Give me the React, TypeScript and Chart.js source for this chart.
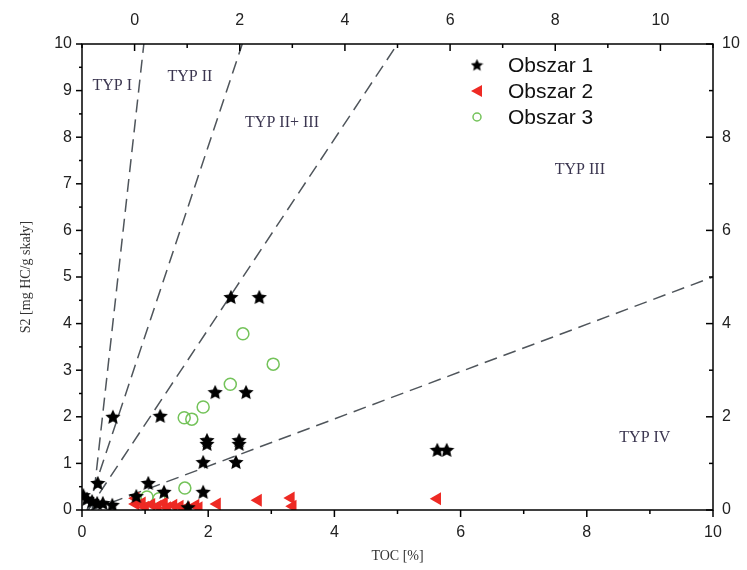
import React, { useEffect, useRef } from 'react';
import { Chart, registerables } from 'chart.js';

Chart.register(...registerables);

// ---- data ----
const obszar1X = [0.02, 0.08, 0.16, 0.24, 0.33, 0.48, 0.25, 1.05, 0.86, 1.3, 1.92, 1.68, 0.49, 1.24, 2.36, 2.81, 2.11, 2.6, 1.98, 1.98, 2.49, 2.49, 1.92, 2.44, 5.63, 5.78];
const obszar1Y = [0.32, 0.24, 0.19, 0.15, 0.15, 0.11, 0.58, 0.58, 0.3, 0.39, 0.39, 0.06, 2.0, 2.02, 4.57, 4.57, 2.53, 2.53, 1.5, 1.42, 1.5, 1.42, 1.03, 1.03, 1.29, 1.29];

const obszar2X = [0.85, 0.85, 0.95, 1.0, 1.1, 1.2, 1.3, 1.35, 1.45, 1.55, 1.65, 1.8, 1.85, 2.14, 2.79, 3.31, 3.34, 5.63];
const obszar2Y = [0.25, 0.13, 0.15, 0.06, 0.12, 0.08, 0.15, 0.05, 0.1, 0.08, 0.05, 0.1, 0.05, 0.13, 0.21, 0.26, 0.08, 0.24];

const obszar3X = [2.55, 3.03, 2.35, 1.92, 1.62, 1.74, 1.63, 1.03, 1.22];
const obszar3Y = [3.78, 3.13, 2.7, 2.21, 1.98, 1.95, 0.47, 0.28, 0.24];

const seriesNames = ['Obszar 1', 'Obszar 2', 'Obszar 3'];

// boundary lines (start/end TOC, start/end S2)
const boundaryX = [[0.16, 0.98], [0.08, 2.54], [0.1, 5.0], [0.15, 10]];
const boundaryY = [[0, 10], [0, 10], [0, 10], [0, 5]];

// type labels
const typeLabels = ['TYP I', 'TYP II', 'TYP II+ III', 'TYP III', 'TYP IV'];
const typeLabelX = [0.48, 1.71, 3.17, 7.89, 8.92];
const typeLabelY = [9.1, 9.29, 8.3, 7.3, 1.55];

const bottomTicks = [0, 2, 4, 6, 8, 10];
const topTicks = [0, 2, 4, 6, 8, 10];
const rightTicks = [0, 2, 4, 6, 8, 10];

const toPoints = (xs: number[], ys: number[]) => xs.map((x, i) => ({ x, y: ys[i] }));

function makeStar(size: number, color: string) {
  const c = document.createElement('canvas');
  c.width = size;
  c.height = size;
  const ctx = c.getContext('2d')!;
  const cx = size / 2, cy = size / 2 + size * 0.04, R = size / 2, r = R * 0.47;
  ctx.beginPath();
  for (let i = 0; i < 10; i++) {
    const a = -Math.PI / 2 + (i * Math.PI) / 5;
    const rad = i % 2 === 0 ? R : r;
    ctx.lineTo(cx + rad * Math.cos(a), cy + rad * Math.sin(a));
  }
  ctx.closePath();
  ctx.fillStyle = color;
  ctx.fill();
  return c;
}

const RED = '#ee2a24';
const GREEN = '#74c35a';
const LINE = '#4f555b';

export default function App() {
  const ref = useRef<HTMLCanvasElement | null>(null);

  useEffect(() => {
    if (!ref.current) return;
    const star = makeStar(16, '#000');
    const legendStar = makeStar(13, '#000');

    const tickPlugin = {
      id: 'frameTicks',
      afterDraw(chart: any) {
        const { ctx, chartArea: a, scales } = chart;
        ctx.save();
        ctx.strokeStyle = '#000';
        ctx.lineWidth = 1.5;
        ctx.strokeRect(a.left, a.top, a.right - a.left, a.bottom - a.top);
        // bottom (outward)
        for (let v = 0; v <= 10; v++) {
          const px = scales.x.getPixelForValue(v);
          const len = v % 2 === 0 ? 7 : 4;
          ctx.beginPath(); ctx.moveTo(px, a.bottom); ctx.lineTo(px, a.bottom + len); ctx.stroke();
        }
        // top (inward)
        for (let v = -1; v <= 11; v++) {
          const px = scales.x2.getPixelForValue(v);
          const len = v % 2 === 0 ? 7 : 4;
          ctx.beginPath(); ctx.moveTo(px, a.top); ctx.lineTo(px, a.top + len); ctx.stroke();
        }
        // left (outward)
        for (let v = 0; v <= 10; v += 0.5) {
          const py = scales.y.getPixelForValue(v);
          const len = Number.isInteger(v) ? 6 : 3;
          ctx.beginPath(); ctx.moveTo(a.left, py); ctx.lineTo(a.left - len, py); ctx.stroke();
        }
        // right (inward)
        for (let v = 0; v <= 10; v++) {
          const py = scales.y2.getPixelForValue(v);
          const len = v % 2 === 0 ? 7 : 4;
          ctx.beginPath(); ctx.moveTo(a.right, py); ctx.lineTo(a.right - len, py); ctx.stroke();
        }

        // type labels
        ctx.fillStyle = '#3b3650';
        ctx.font = '16px "Liberation Serif", "Times New Roman", serif';
        ctx.textAlign = 'center';
        ctx.textBaseline = 'middle';
        typeLabels.forEach((t, i) => {
          ctx.fillText(t, scales.x.getPixelForValue(typeLabelX[i]), scales.y.getPixelForValue(typeLabelY[i]));
        });

        // legend
        const lx = a.left + 395;
        const ly = a.top + 21;
        const step = 26;
        ctx.font = '21px "Liberation Sans", Arial, sans-serif';
        ctx.textAlign = 'left';
        ctx.fillStyle = '#111';
        seriesNames.forEach((name, i) => {
          const y = ly + i * step;
          if (i === 0) {
            ctx.drawImage(legendStar, lx - 6.5, y - 6.5);
          } else if (i === 1) {
            ctx.beginPath();
            ctx.moveTo(lx - 6, y);
            ctx.lineTo(lx + 5, y - 6);
            ctx.lineTo(lx + 5, y + 6);
            ctx.closePath();
            ctx.fillStyle = RED;
            ctx.fill();
          } else {
            ctx.beginPath();
            ctx.arc(lx, y, 4, 0, Math.PI * 2);
            ctx.strokeStyle = GREEN;
            ctx.lineWidth = 1.5;
            ctx.stroke();
          }
          ctx.fillStyle = '#111';
          ctx.fillText(name, lx + 31, y + 1);
        });
        ctx.restore();
      },
    };

    const tickFont = { family: '"Liberation Sans", Arial, sans-serif', size: 16 };
    const titleFont = { family: '"Liberation Serif", "Times New Roman", serif', size: 14 };

    const chart = new Chart(ref.current, {
      type: 'scatter',
      data: {
        datasets: [
          {
            label: seriesNames[0],
            data: toPoints(obszar1X, obszar1Y),
            pointStyle: star as any,
            pointRadius: 8,
            backgroundColor: '#000',
            borderColor: '#000',
          },
          {
            label: seriesNames[1],
            data: toPoints(obszar2X, obszar2Y),
            pointStyle: 'triangle',
            rotation: -90,
            pointRadius: 7.5,
            backgroundColor: RED,
            borderColor: RED,
            borderWidth: 0,
          },
          {
            label: seriesNames[2],
            data: toPoints(obszar3X, obszar3Y),
            pointStyle: 'circle',
            pointRadius: 6,
            backgroundColor: 'rgba(0,0,0,0)',
            borderColor: GREEN,
            borderWidth: 1.5,
          },
          ...boundaryX.map((bx, i) => ({
            type: 'line' as const,
            label: 'boundary' + i,
            data: toPoints(bx, boundaryY[i]),
            showLine: true,
            borderColor: LINE,
            borderWidth: 1.5,
            borderDash: [13, 7],
            pointRadius: 0,
            fill: false,
          })),
        ],
      } as any,
      options: {
        responsive: false,
        animation: false,
        devicePixelRatio: 1,
        layout: { padding: 0 },
        plugins: {
          legend: { display: false },
          tooltip: { enabled: false },
        },
        scales: {
          x: {
            type: 'linear',
            position: 'bottom',
            min: 0,
            max: 10,
            afterFit: (s: any) => { s.height = 60; },
            grid: { display: false, drawTicks: false },
            border: { display: false },
            ticks: {
              stepSize: 1,
              autoSkip: false,
              maxRotation: 0,
              padding: 13,
              color: '#222',
              font: tickFont,
              callback: (v: any) => (bottomTicks.includes(Number(v)) ? String(v) : ''),
            },
            title: {
              display: true,
              text: 'TOC [%]',
              color: '#333',
              font: titleFont,
              padding: { top: 0, bottom: 5 },
            },
          },
          x2: {
            type: 'linear',
            position: 'top',
            min: -1,
            max: 11,
            afterFit: (s: any) => { s.height = 44; },
            grid: { display: false, drawTicks: false },
            border: { display: false },
            ticks: {
              stepSize: 1,
              autoSkip: false,
              maxRotation: 0,
              padding: 14,
              color: '#222',
              font: tickFont,
              callback: (v: any) => (topTicks.includes(Number(v)) ? String(v) : ''),
            },
          },
          y: {
            type: 'linear',
            position: 'left',
            min: 0,
            max: 10,
            afterFit: (s: any) => { s.width = 82; },
            grid: { display: false, drawTicks: false },
            border: { display: false },
            ticks: {
              stepSize: 1,
              autoSkip: false,
              padding: 10,
              color: '#222',
              font: tickFont,
            },
            title: {
              display: true,
              text: 'S2 [mg HC/g skały]',
              color: '#333',
              font: titleFont,
              padding: { top: 18, bottom: 0 },
            },
          },
          y2: {
            type: 'linear',
            position: 'right',
            min: 0,
            max: 10,
            afterFit: (s: any) => { s.width = 34; },
            grid: { display: false, drawTicks: false },
            border: { display: false },
            ticks: {
              stepSize: 1,
              autoSkip: false,
              padding: 9,
              color: '#222',
              font: tickFont,
              callback: (v: any) => (rightTicks.includes(Number(v)) ? String(v) : ''),
            },
          },
        },
      } as any,
      plugins: [tickPlugin],
    });
    return () => chart.destroy();
  }, []);

  return (
    <div style={{ position: 'absolute', left: 0, top: 0, width: 747, height: 570, background: '#fff' }}>
      <canvas ref={ref} width={747} height={570} style={{ width: 747, height: 570 }} />
    </div>
  );
}
